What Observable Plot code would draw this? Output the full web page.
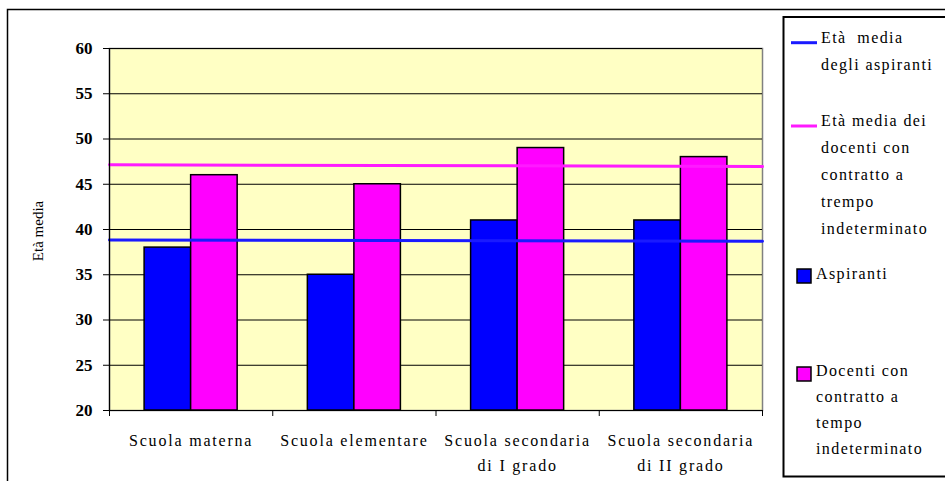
<!DOCTYPE html>
<html><head><meta charset="utf-8">
<script src="https://cdn.jsdelivr.net/npm/d3@7"></script>
<script src="https://cdn.jsdelivr.net/npm/@observablehq/plot@0.6"></script>
<style>body{margin:0;background:#fff;} svg{display:block;} svg text{font-family:'Liberation Serif','Times New Roman',serif !important;}</style>
</head><body><div id="chart"></div>
<script>
const categories = ["Scuola materna", "Scuola elementare", "Scuola secondaria\ndi I grado", "Scuola secondaria\ndi II grado"];
const aspiranti = [38, 35, 41, 41];
const docenti = [46, 45, 49, 48];
// average-age reference lines: value at the left edge, value at the right edge
const mediaAspiranti = [38.85, 38.7];
const mediaDocenti = [47.15, 46.97];
const yTicks = [20, 25, 30, 35, 40, 45, 50, 55, 60];
const yLabel = "Età media";
const legendLines = [
  ["Età  media", "degli aspiranti"],
  ["Età media dei", "docenti con", "contratto a", "trempo", "indeterminato"]
];
const legendBars = [
  ["Aspiranti"],
  ["Docenti con", "contratto a", "tempo", "indeterminato"]
];
const blue = "#0000ff", magenta = "#ff00ff", lineBlue = "#1a1aff", lineMagenta = "#ff1aff";
const serif = "'Liberation Serif', 'Times New Roman', serif";

const barWidth = 0.285;
const barsA = aspiranti.map((v, i) => ({x1: i + 0.5 - barWidth, x2: i + 0.5, v}));
const barsD = docenti.map((v, i) => ({x1: i + 0.5, x2: i + 0.5 + barWidth, v}));
const n = categories.length;
const lineA = mediaAspiranti.map((v, k) => ({x: k * n, v}));
const lineD = mediaDocenti.map((v, k) => ({x: k * n, v}));
const boundaries = d3.range(0, n + 1);
const centers = d3.range(0, n).map(i => i + 0.5);

const plot = Plot.plot({
  width: 945, height: 481,
  marginLeft: 109, marginRight: 183, marginTop: 48, marginBottom: 71,
  x: {domain: [0, n], axis: null},
  y: {domain: [yTicks[0], yTicks[yTicks.length - 1]], axis: null},
  style: {fontFamily: serif, background: "white", color: "#000"},
  marks: [
    Plot.frame({fill: "#ffffc4", stroke: "#808080", strokeWidth: 1.5}),
    Plot.gridY(yTicks, {stroke: "#000", strokeOpacity: 1, strokeWidth: 1}),
    Plot.rectY(barsA, {x1: "x1", x2: "x2", y1: yTicks[0], y2: "v", fill: blue, stroke: "#000", strokeWidth: 1.5}),
    Plot.rectY(barsD, {x1: "x1", x2: "x2", y1: yTicks[0], y2: "v", fill: magenta, stroke: "#000", strokeWidth: 1.5}),
    Plot.line(lineA, {x: "x", y: "v", stroke: lineBlue, strokeWidth: 3}),
    Plot.line(lineD, {x: "x", y: "v", stroke: lineMagenta, strokeWidth: 3}),
    Plot.ruleX([0], {stroke: "#000", strokeWidth: 1.2}),
    Plot.ruleY([yTicks[0]], {stroke: "#000", strokeWidth: 1.2}),
    Plot.axisY(yTicks, {tickSize: 6, tickPadding: 11, fontSize: 17, fontWeight: "bold", stroke: "#000", strokeOpacity: 1, label: null}),
    Plot.axisX(boundaries, {tickSize: 6, tickFormat: () => "", stroke: "#000", strokeOpacity: 1, label: null}),
    Plot.axisX(centers, {tickSize: 0, tickPadding: 17, fontSize: 16, lineHeight: 1.6, label: null, tickFormat: d => categories[Math.floor(d)]})
  ]
});
document.getElementById("chart").appendChild(plot);

const svg = d3.select(plot);
svg.selectAll('g[aria-label="x-axis tick label"] text').style("letter-spacing", "1.8px");

// axis title
svg.append("text")
  .attr("transform", "translate(43,231) rotate(-90)")
  .attr("text-anchor", "middle")
  .attr("font-size", 15)
  .text(yLabel);

// outer border
svg.append("rect").attr("x", 7.5).attr("y", 9.5).attr("width", 960).attr("height", 500)
  .attr("fill", "none").attr("stroke", "#000").attr("stroke-width", 1.5);

// legend
const lg = svg.append("g").attr("font-size", 16)
  .attr("text-anchor", "start").style("letter-spacing", "1.4px");
lg.append("rect").attr("x", 783.5).attr("y", 17).attr("width", 200).attr("height", 459.5)
  .attr("fill", "#fff").attr("stroke", "#000").attr("stroke-width", 2);
const lineItems = [{c: lineBlue, y: 42.7, lines: legendLines[0], ty: 37}, {c: lineMagenta, y: 126, lines: legendLines[1], ty: 120}];
lineItems.forEach(it => {
  lg.append("line").attr("x1", 791).attr("x2", 817).attr("y1", it.y).attr("y2", it.y).attr("stroke", it.c).attr("stroke-width", 3);
  it.lines.forEach((t, k) => lg.append("text").attr("x", 821).attr("y", it.ty + k * 27 + 5.5).style("white-space", "pre").attr("xml:space", "preserve").text(t));
});
const barItems = [{c: blue, y: 269, lines: legendBars[0], ty: 273}, {c: magenta, y: 367, lines: legendBars[1], ty: 370}];
barItems.forEach(it => {
  lg.append("rect").attr("x", 797).attr("y", it.y).attr("width", 14).attr("height", 14).attr("fill", it.c).attr("stroke", "#000").attr("stroke-width", 1.5);
  it.lines.forEach((t, k) => lg.append("text").attr("x", 816).attr("y", it.ty + k * 26 + 5.5).text(t));
});
svg.selectAll("text").style("font-family", serif);
</script>
</body></html>
